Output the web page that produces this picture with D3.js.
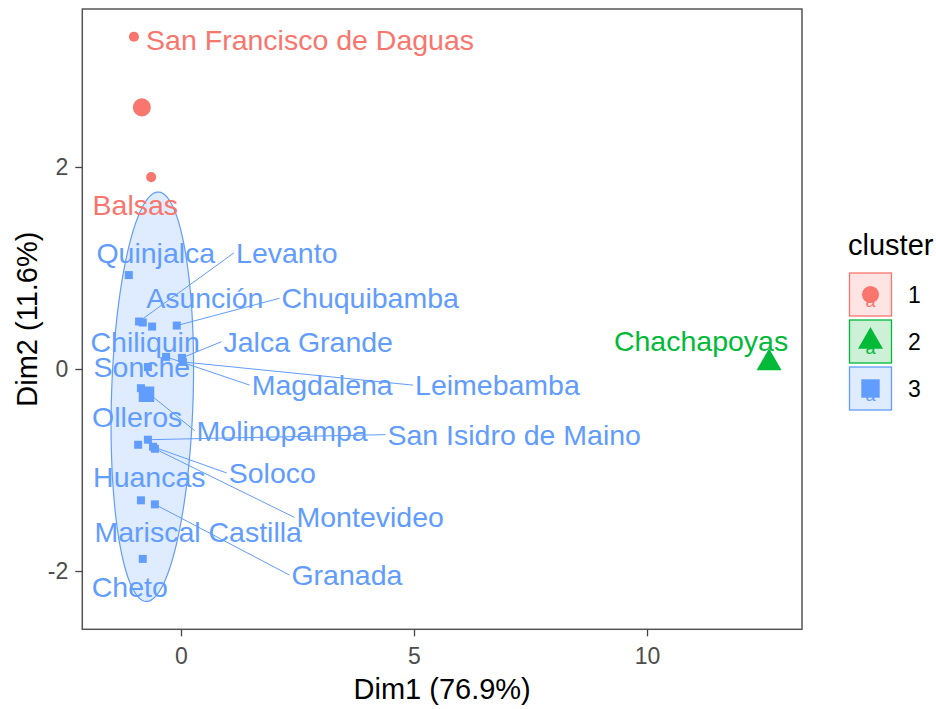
<!DOCTYPE html>
<html>
<head>
<meta charset="utf-8">
<script src="https://cdn.jsdelivr.net/npm/d3@7/dist/d3.min.js"></script>
<style>
  body { margin: 0; background: #fff; }
  text { font-family: "Liberation Sans", Arial, sans-serif; }
</style>
</head>
<body>
<svg width="936" height="709"></svg>
<script>
// municipalities, cluster and PCA coordinates
const names = ['San Francisco de Daguas', 'Balsas', 'Chachapoyas', 'Quinjalca', 'Levanto', 'Asunción',
  'Chuquibamba', 'Chiliquin', 'Jalca Grande', 'Leimebamba', 'Magdalena', 'Sonche', 'Olleros',
  'Molinopampa', 'San Isidro de Maino', 'Huancas', 'Soloco', 'Montevideo', 'Mariscal Castilla',
  'Granada', 'Cheto']
const cluster = [1, 1, 2, 3, 3, 3, 3, 3, 3, 3, 3, 3, 3, 3, 3, 3, 3, 3, 3, 3, 3]
const dim1 = [-1.01, -0.64, 12.62, -1.12, -0.90, -0.82, -0.09, -0.62, 0.02, 0.04, -0.32, -0.71, -0.86,
  -0.67, -0.71, -0.92, -0.60, -0.56, -0.86, -0.56, -0.82]
const dim2 = [3.29, 1.90, 0.06, 0.93, 0.47, 0.46, 0.43, 0.42, 0.11, 0.07, 0.12, 0.02, -0.19,
  -0.25, -0.70, -0.75, -0.77, -0.79, -1.30, -1.34, -1.88]
// where the repelled labels ended up (label centre, data units)
const labelX = [2.77, -0.98, 11.16, -0.54, 2.27, 0.51, 4.06, -0.77, 2.73, 6.79, 3.03, -0.84, -0.94,
  2.17, 7.15, -0.68, 1.96, 4.06, 0.37, 3.56, -1.10]
const labelY = [3.26, 1.62, 0.28, 1.15, 1.15, 0.70, 0.70, 0.27, 0.27, -0.16, -0.16, 0.02, -0.48,
  -0.61, -0.65, -1.07, -1.03, -1.47, -1.61, -2.04, -2.16]

// cluster centres
const centerCluster = [1, 2, 3]
const centerDim1 = [-0.84, 12.62, -0.74]
const centerDim2 = [2.59, 0.06, -0.25]

const xTicks = [0, 5, 10]
const yTicks = [-2, 0, 2]
const xTitle = 'Dim1 (76.9%)'
const yTitle = 'Dim2 (11.6%)'
const legendTitle = 'cluster'

const svg = d3.select('svg')
const margin = { left: 82.3, right: 802, top: 9, bottom: 629.3 }

const x = d3.scaleLinear().domain([-2.118, 13.326]).range([margin.left, margin.right])
const y = d3.scaleLinear().domain([-2.577, 3.564]).range([margin.bottom, margin.top])

const color = d3.scaleOrdinal().domain([1, 2, 3]).range(['#F8766D', '#00BA38', '#619CFF'])
const shape = d3.scaleOrdinal().domain([1, 2, 3]).range([d3.symbolCircle, d3.symbolTriangle, d3.symbolSquare])
// symbol areas for the normal points, the centres and the legend keys
const pointSize = { 1: 80, 2: 70, 3: 64 }
const centerSize = { 1: 255, 2: 270, 3: 240 }
const keySize = { 1: 230, 2: 270, 3: 340 }

const points = names.map((n, i) => ({ name: n, cluster: cluster[i], x: dim1[i], y: dim2[i], lx: labelX[i], ly: labelY[i] }))

const plot = svg.append('g')

// normal-theory 95% ellipse for every cluster with more than 2 members
const radius = Math.sqrt(2 * 3.5915)
centerCluster.forEach(function (c) {
  const pts = points.filter(p => p.cluster === c)
  if (pts.length < 3) return
  const mx = d3.mean(pts, p => p.x)
  const my = d3.mean(pts, p => p.y)
  const n = pts.length
  const a = d3.sum(pts, p => (p.x - mx) ** 2) / (n - 1)
  const b = d3.sum(pts, p => (p.x - mx) * (p.y - my)) / (n - 1)
  const cc = d3.sum(pts, p => (p.y - my) ** 2) / (n - 1)
  const r11 = Math.sqrt(a), r12 = b / r11, r22 = Math.sqrt(cc - r12 * r12)
  const ring = d3.range(0, 2 * Math.PI, Math.PI / 60).map(t => [
    x(mx + radius * Math.cos(t) * r11),
    y(my + radius * (Math.cos(t) * r12 + Math.sin(t) * r22))
  ])
  plot.append('path')
    .attr('d', d3.line().curve(d3.curveLinearClosed)(ring))
    .attr('fill', color(c))
    .attr('fill-opacity', 0.2)
    .attr('stroke', color(c))
    .attr('stroke-width', 1.2)
})

// points
plot.selectAll('path.pt')
  .data(points)
  .enter()
  .append('path')
  .attr('class', 'pt')
  .attr('transform', d => `translate(${x(d.x)},${y(d.y)})`)
  .attr('d', d => d3.symbol().type(shape(d.cluster)).size(pointSize[d.cluster])())
  .attr('fill', d => color(d.cluster))

// centres
plot.selectAll('path.center')
  .data(centerCluster)
  .enter()
  .append('path')
  .attr('class', 'center')
  .attr('transform', (d, i) => `translate(${x(centerDim1[i])},${y(centerDim2[i])})`)
  .attr('d', d => d3.symbol().type(shape(d)).size(centerSize[d])())
  .attr('fill', d => color(d))

// labels and leader segments
const segs = plot.append('g')
const labels = plot.selectAll('text.lab')
  .data(points)
  .enter()
  .append('text')
  .attr('class', 'lab')
  .attr('x', d => x(d.lx))
  .attr('y', d => y(d.ly))
  .attr('dy', '0.35em')
  .attr('text-anchor', 'middle')
  .attr('font-size', 28.5)
  .attr('fill', d => color(d.cluster))
  .text(d => d.name)

labels.each(function (d) {
  const bb = this.getBBox()
  const px = x(d.x), py = y(d.y)
  const pad = 2
  const x0 = bb.x - pad, x1 = bb.x + bb.width + pad
  const y0 = bb.y + 2, y1 = bb.y + bb.height - 2
  const nx = Math.max(x0, Math.min(px, x1))
  const ny = Math.max(y0, Math.min(py, y1))
  if (Math.hypot(px - nx, py - ny) < 22) return
  const cy = (y0 + y1) / 2, cx = (x0 + x1) / 2
  const anchors = [[x0, cy], [x1, cy], [cx, y0], [cx, y1]]
  const end = anchors.reduce((m, p) => Math.hypot(p[0] - px, p[1] - py) < Math.hypot(m[0] - px, m[1] - py) ? p : m)
  segs.append('line')
    .attr('x1', px).attr('y1', py)
    .attr('x2', end[0]).attr('y2', end[1])
    .attr('stroke', color(d.cluster))
    .attr('stroke-width', 1)
})

// panel border
svg.append('rect')
  .attr('x', margin.left).attr('y', margin.top)
  .attr('width', margin.right - margin.left)
  .attr('height', margin.bottom - margin.top)
  .attr('fill', 'none')
  .attr('stroke', '#555')
  .attr('stroke-width', 1.5)

// axes
const xAxis = svg.append('g')
  .attr('transform', `translate(0,${margin.bottom})`)
  .call(d3.axisBottom(x).tickValues(xTicks).tickFormat(d => String(d)).tickSize(7).tickPadding(11))
const yAxis = svg.append('g')
  .attr('transform', `translate(${margin.left},0)`)
  .call(d3.axisLeft(y).tickValues(yTicks).tickFormat(d => String(d)).tickSize(7).tickPadding(7))
;[xAxis, yAxis].forEach(function (g) {
  g.select('.domain').remove()
  g.selectAll('line').attr('stroke', '#444').attr('stroke-width', 1.3)
  g.selectAll('text')
    .attr('font-size', 23)
    .attr('fill', '#4D4D4D')
    .style('font-family', '"Liberation Sans", Arial, sans-serif')
})

svg.append('text')
  .attr('x', (margin.left + margin.right) / 2)
  .attr('y', 699)
  .attr('text-anchor', 'middle')
  .attr('font-size', 29)
  .text(xTitle)

svg.append('text')
  .attr('transform', `translate(37,${(margin.top + margin.bottom) / 2}) rotate(-90)`)
  .attr('text-anchor', 'middle')
  .attr('font-size', 29)
  .text(yTitle)

// legend
const legend = svg.append('g')
legend.append('text')
  .attr('x', 848)
  .attr('y', 255)
  .attr('font-size', 29)
  .text(legendTitle)

const key = legend.selectAll('g.key')
  .data(centerCluster)
  .enter()
  .append('g')
  .attr('class', 'key')
  .attr('transform', (d, i) => `translate(870.5,${294.5 + i * 47})`)

key.append('rect')
  .attr('x', -21).attr('y', -21.5)
  .attr('width', 42).attr('height', 43)
  .attr('fill', d => color(d))
  .attr('fill-opacity', 0.2)
  .attr('stroke', d => color(d))
  .attr('stroke-width', 1.3)

key.append('text')
  .attr('y', 12)
  .attr('text-anchor', 'middle')
  .attr('font-size', 18)
  .attr('fill', d => color(d))
  .text('a')

key.append('path')
  .attr('d', d => d3.symbol().type(shape(d)).size(keySize[d])())
  .attr('fill', d => color(d))

key.append('text')
  .attr('x', 37.5)
  .attr('dy', '0.35em')
  .attr('font-size', 23)
  .text(d => d)
</script>
</body>
</html>
